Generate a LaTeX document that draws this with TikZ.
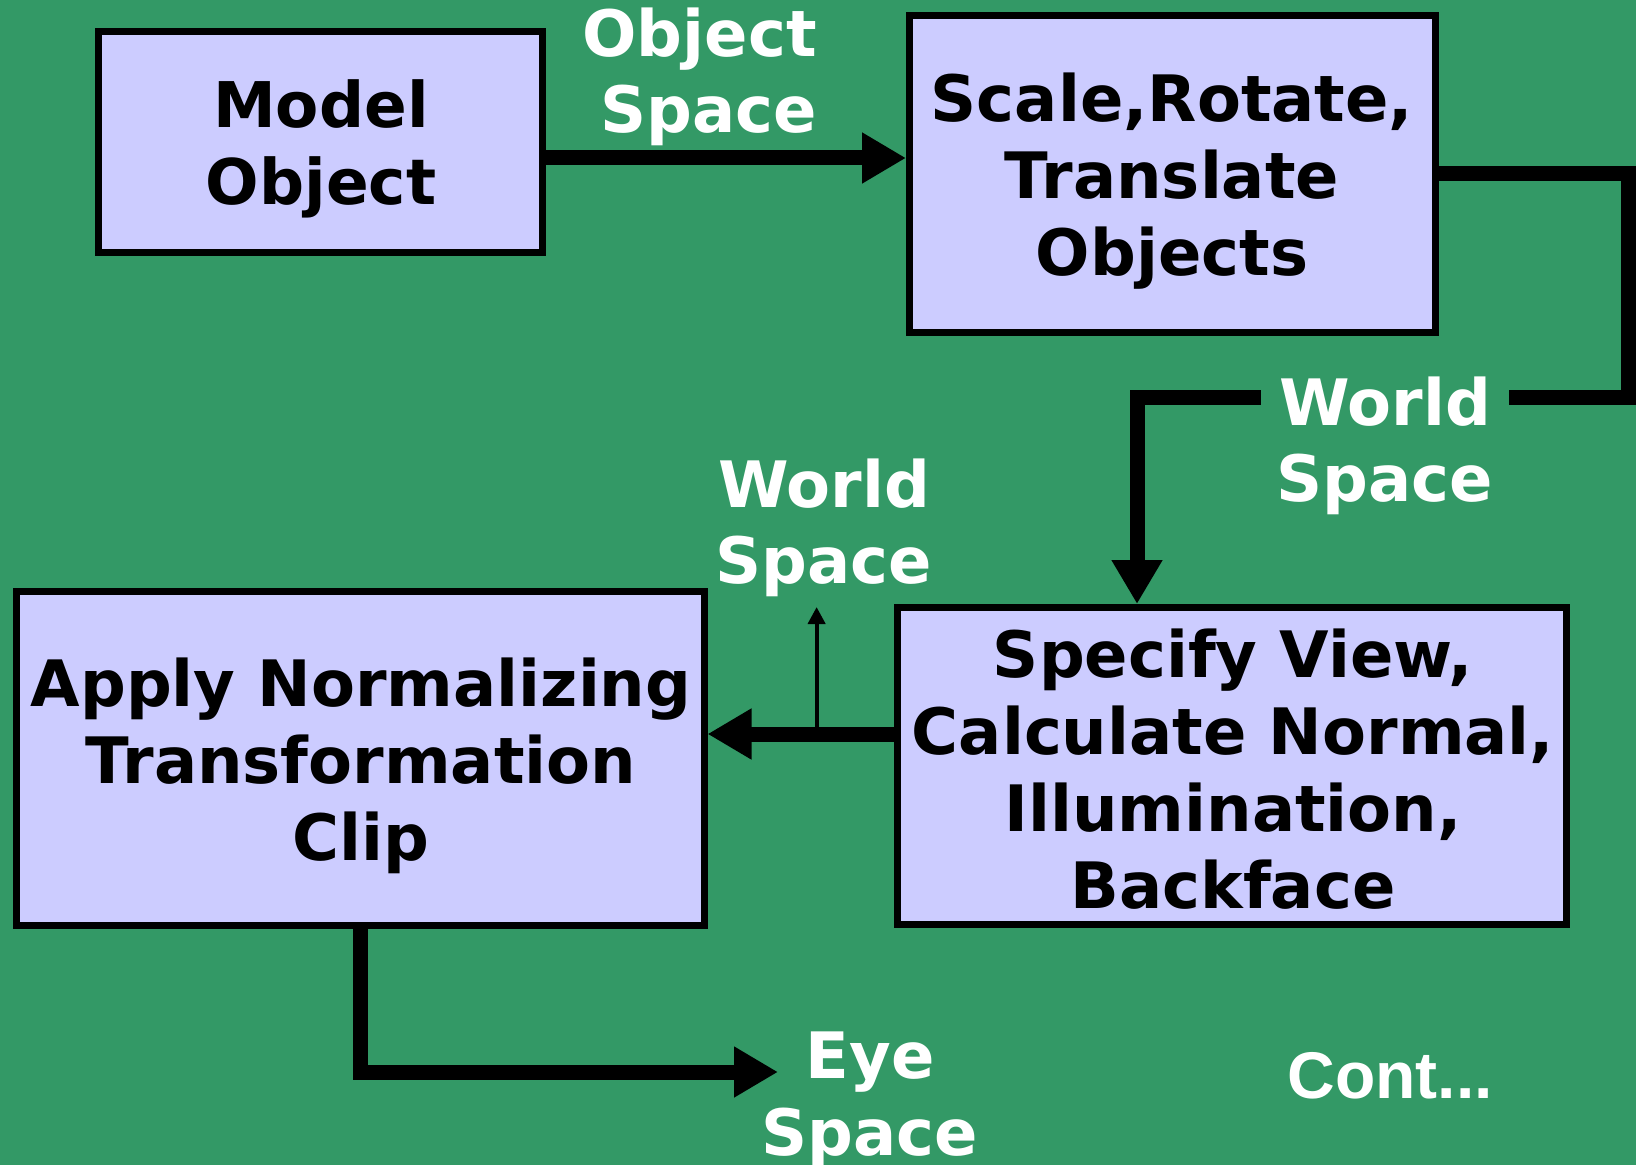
\documentclass[tikz,border=0pt]{standalone}
\usepackage{fontspec}
\setmainfont{DejaVu Sans}
\newfontfamily\contfont{Liberation Sans}
\usetikzlibrary{arrows.meta,calc}

\definecolor{bggreen}{RGB}{51,153,102}
\definecolor{boxblue}{RGB}{204,204,255}

% multi-line text whose baseline is that of its first line
\newcommand\textrows[1]{\begin{tabular}[t]{@{}c@{}}#1\end{tabular}}
\newcommand\textrowsr[1]{\begin{tabular}[t]{@{}r@{}}#1\end{tabular}}

\tikzset{
  stagebox/.style={draw=black, line width=3.5pt, fill=boxblue, inner sep=0pt},
  stagetext/.style={anchor=base, inner sep=0pt, text=black,
    font=\fontsize{32}{38.5}\selectfont\bfseries},
  spacelabel/.style={anchor=base, inner sep=0pt, text=white,
    font=\fontsize{32}{38}\selectfont\bfseries},
  flow/.style={draw=black, line width=7.5pt, line join=miter,
    -{Triangle[length=22pt,width=24pt]}},
  tap/.style={draw=black, line width=2pt,
    -{Triangle[length=8.5pt,width=8.5pt]}},
}

\begin{document}
\begin{tikzpicture}[x=0.5pt, y=-0.5pt]
  % page background
  \fill[bggreen] (0,0) rectangle (1636,1165);
  \useasboundingbox (0,0) rectangle (1636,1165);

  % processing stages
  \node[stagebox, minimum width=222pt, minimum height=110.5pt] (model) at (320.5,142) {};
  \node[stagebox, minimum width=263pt, minimum height=158.5pt] (srt) at (1172.5,174) {};
  \node[stagebox, minimum width=334.5pt, minimum height=158.5pt] (view) at (1232,766) {};
  \node[stagebox, minimum width=344pt, minimum height=167pt] (norm) at (360,758) {};

  \node[stagetext, font=\fontsize{31.5}{38.5}\selectfont\bfseries] (modeltext) at (321,128) {\textrows{Model\\Object}};
  \node[stagetext] (srttext) at (1172,122) {\textrows{Scale,Rotate,\\Translate\\Objects}};
  \node[stagetext] (viewtext) at (1233,677) {\textrows{Specify View,\\Calculate Normal,\\Illumination,\\Backface}};
  \node[stagetext] (normtext) at (361,706) {\textrows{Apply Normalizing\\Transformation\\Clip}};

  % free ends of the open connectors
  \coordinate (loopcorner) at (1628,398);
  \coordinate (worldup) at (817,607);
  \coordinate (eyeend) at (778,1072);

  % connectors
  \draw[flow] ([yshift=-8pt]model.east) -- ([yshift=-8pt]model.east -| srt.west);
  \draw[flow] (srt.east) -| (loopcorner) -| ([xshift=-47.5pt]view.north);
  \draw[flow] ([yshift=16pt]view.west) -- coordinate[pos=0.415] (split) ([yshift=16pt]view.west -| norm.east);
  \draw[tap] (split) -- (split |- worldup);
  \draw[flow] (norm.south) |- (eyeend);

  % space labels
  \node[spacelabel, anchor=base east] (objspace) at (817,57) {\textrowsr{Object\\Space}};
  \node[spacelabel, fill=bggreen, inner xsep=8pt] (worldspace1) at (1385,426) {\textrows{World\\Space}};
  \node[spacelabel] (worldspace2) at (824,507) {\textrows{World\\Space}};
  \node[spacelabel, font=\fontsize{32}{38.5}\selectfont\bfseries] (eyespace) at (870,1078) {\textrows{Eye\\Space}};
  \node[anchor=base, inner sep=0pt, text=white, font=\contfont\fontsize{33}{38}\selectfont\bfseries] (cont) at (1390,1098) {Cont...};
\end{tikzpicture}
\end{document}
